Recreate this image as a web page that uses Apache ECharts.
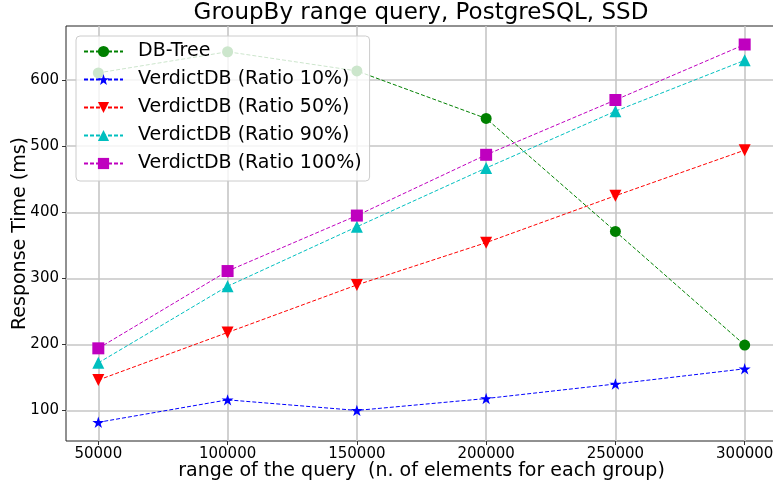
<!DOCTYPE html>
<html>
<head>
<meta charset="utf-8">
<script src="https://cdn.jsdelivr.net/npm/echarts@6/dist/echarts.min.js"></script>
<style>
  html, body { margin: 0; padding: 0; background: #fff; }
  #chart { width: 773px; height: 484px; }
</style>
</head>
<body>
<div id="chart"></div>
<script>
// data
const xValues = [50000, 100000, 150000, 200000, 250000, 300000];
const yTicks = [100, 200, 300, 400, 500, 600];
const dbTree = [611, 643, 614, 542, 371, 199];
const verdict10 = [82, 116, 100, 118, 140, 163];
const verdict50 = [146, 218, 290, 354, 425, 494];
const verdict90 = [172, 288, 378, 467, 553, 630];
const verdict100 = [194, 311, 395, 487, 570, 654];

const star = 'path://M50 0 L61.2 34.5 L97.6 34.5 L68.2 55.9 L79.4 90.5 L50 69.1 L20.6 90.5 L31.8 55.9 L2.4 34.5 L38.8 34.5 Z';
const font = 'DejaVu Sans';

function mkSeries(name, vals, color, symbol, size, rotate) {
  return {
    name: name,
    type: 'line',
    data: xValues.map((x, i) => [x, vals[i]]),
    symbol: symbol,
    symbolSize: size,
    symbolRotate: rotate || 0,
    symbolKeepAspect: true,
    showSymbol: true,
    lineStyle: { color: color, width: 1, type: [4, 2] },
    itemStyle: { color: color, opacity: 1 },
    emphasis: { disabled: true },
    animation: false
  };
}

var chart = echarts.init(document.getElementById('chart'), null, { renderer: 'canvas' });
var option = {
  animation: false,
  title: {
    text: 'GroupBy range query, PostgreSQL, SSD',
    left: 421,
    top: 2,
    padding: 0,
    textAlign: 'center',
    textStyle: { fontFamily: font, fontSize: 23, fontWeight: 'normal', color: '#000' }
  },
  legend: {
    orient: 'vertical',
    left: 76,
    top: 36,
    padding: [6, 8, 8, 7],
    itemWidth: 39,
    itemHeight: 14,
    itemGap: 9,
    backgroundColor: 'rgba(255,255,255,0.8)',
    borderColor: '#cccccc',
    borderWidth: 1,
    borderRadius: 4,
    textStyle: { fontFamily: font, fontSize: 19, color: '#000', lineHeight: 19, padding: [0, 0, 0, 10] }
  },
  grid: {
    left: 66, top: 26, right: -4, bottom: 43,
    outerBoundsMode: 'none',
    containLabel: false,
    show: true, borderColor: '#222', borderWidth: 1, backgroundColor: 'transparent'
  },
  xAxis: {
    type: 'value',
    min: 37500,
    max: 312500,
    name: 'range of the query  (n. of elements for each group)',
    nameLocation: 'middle',
    nameGap: 21,
    nameMoveOverlap: false,
    nameTextStyle: { fontFamily: font, fontSize: 19, color: '#000' },
    axisLine: { show: false },
    axisTick: { show: true, length: 4, lineStyle: { color: '#333' }, customValues: xValues },
    axisLabel: { fontFamily: font, fontSize: 15, color: '#000', margin: 6, customValues: xValues,
      formatter: v => String(v) },
    splitLine: { show: true, lineStyle: { color: '#c6c6c6', width: 1.6 } }
  },
  yAxis: {
    type: 'value',
    min: 53.7,
    max: 682,
    name: 'Response Time (ms)',
    nameLocation: 'middle',
    nameGap: 36,
    nameMoveOverlap: false,
    nameTextStyle: { fontFamily: font, fontSize: 19, color: '#000' },
    axisLine: { show: false },
    axisTick: { show: true, length: 4, lineStyle: { color: '#333' }, customValues: yTicks },
    axisLabel: { fontFamily: font, fontSize: 15, color: '#000', margin: 7, customValues: yTicks,
      formatter: v => String(v) },
    splitLine: { show: true, lineStyle: { color: '#c6c6c6', width: 1.6 } }
  },
  series: [
    mkSeries('DB-Tree', dbTree, '#008000', 'circle', 11),
    mkSeries('VerdictDB (Ratio 10%)', verdict10, '#0000ff', star, 12),
    mkSeries('VerdictDB (Ratio 50%)', verdict50, '#ff0000', 'triangle', 12, 180),
    mkSeries('VerdictDB (Ratio 90%)', verdict90, '#00bfbf', 'triangle', 12),
    mkSeries('VerdictDB (Ratio 100%)', verdict100, '#bf00bf', 'rect', 12)
  ]
};
option && chart.setOption(option);
</script>
</body>
</html>
